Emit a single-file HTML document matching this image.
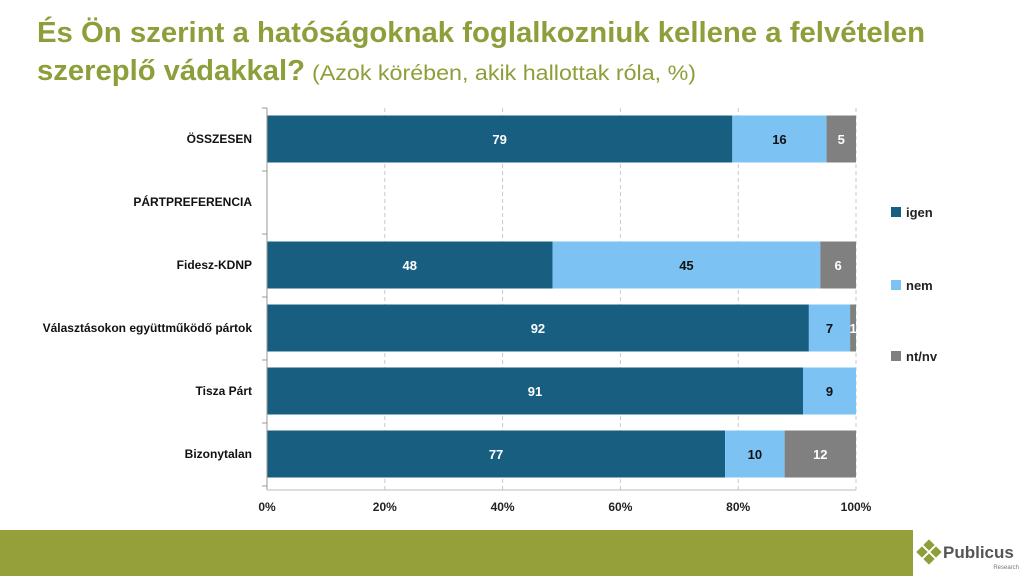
<!DOCTYPE html>
<html><head><meta charset="utf-8"><style>
html,body{margin:0;padding:0;background:#fff;}
svg{display:block;font-family:"Liberation Sans",sans-serif;}
</style></head><body>
<svg id="c" width="1024" height="576" viewBox="0 0 1024 576">
<text x="37" y="42" font-size="29" font-weight="bold" fill="#8c9f3a" textLength="888" lengthAdjust="spacingAndGlyphs">És Ön szerint a hatóságoknak foglalkozniuk kellene a felvételen</text>
<text x="37" y="80" font-size="29" font-weight="bold" fill="#8c9f3a" textLength="268" lengthAdjust="spacingAndGlyphs">szereplő vádakkal?</text>
<text x="312" y="80" font-size="21" fill="#8c9f3a" textLength="384" lengthAdjust="spacingAndGlyphs">(Azok körében, akik hallottak róla, %)</text>
<g id="grid"></g><g id="bars"></g><g id="axes"></g>
<g>
<rect x="891" y="207" width="10" height="10" fill="#175e80"/>
<text x="906" y="217" font-size="13" font-weight="bold" fill="#222">igen</text>
<rect x="891" y="280" width="10" height="10" fill="#7cc3f4"/>
<text x="906" y="290" font-size="13" font-weight="bold" fill="#222">nem</text>
<rect x="891" y="351" width="10" height="10" fill="#808080"/>
<text x="906" y="361" font-size="13" font-weight="bold" fill="#222">nt/nv</text>
</g>
<rect x="0" y="530" width="913" height="46" fill="#95a03a"/>
<g>
<rect x="925" y="541" width="8" height="8" fill="#8c9f3a" transform="rotate(45 929 545)"/>
<rect x="918" y="548" width="8" height="8" fill="#8c9f3a" transform="rotate(45 922 552)"/>
<rect x="932" y="548" width="8" height="8" fill="#8c9f3a" transform="rotate(45 936 552)"/>
<rect x="925" y="555" width="8" height="8" fill="#8c9f3a" transform="rotate(45 929 559)"/>
<text x="943" y="558" font-size="17" font-weight="bold" fill="#555">Publicus</text>
<text x="1019" y="569" font-size="6" fill="#777" text-anchor="end">Research</text>
</g>
</svg>
<script>
const categories=["ÖSSZESEN","PÁRTPREFERENCIA","Fidesz-KDNP","Választásokon együttműködő pártok","Tisza Párt","Bizonytalan"];
const igen=[79,null,48,92,91,77];
const nem=[16,null,45,7,9,10];
const ntnv=[5,null,6,1,0,12];
const ticks=["0%","20%","40%","60%","80%","100%"];
const NS="http://www.w3.org/2000/svg";
const X0=267,X1=856,Y0=108,ROW=63,BH=47;
const xs=v=>X0+(X1-X0)*v/100;
const yc=i=>139+i*ROW;
function mk(t,a,p){const e=document.createElementNS(NS,t);for(const k in a)e.setAttribute(k,a[k]);p.appendChild(e);return e;}
const grid=document.getElementById('grid'),bars=document.getElementById('bars'),axes=document.getElementById('axes');
const YB=490;
ticks.forEach((t,i)=>{const x=xs(i*20);
 if(i>0){const l=mk('line',{x1:x,x2:x,y1:Y0,y2:YB,stroke:'#c8c8c8','stroke-dasharray':'4,3'},grid);
 
 }
 const tx=mk('text',{x:x,y:511,'font-size':12,'font-weight':'bold','text-anchor':'middle',fill:'#222'},axes);tx.textContent=t;
 
 
});
const ax=mk('line',{x1:X0,x2:X0,y1:Y0,y2:YB,stroke:'#999'},axes);


const bx=mk('line',{x1:X0,x2:X1,y1:YB,y2:YB,stroke:'#bbb'},axes);


for(let i=0;i<=categories.length;i++){const y=Y0+i*ROW;const tk=mk('line',{x1:X0-5,x2:X0,y1:y,y2:y,stroke:'#999'},axes);
 
 }
const series=[[igen,'#175e80','#fff','igen'],[nem,'#7cc3f4','#111','nem'],[ntnv,'#808080','#fff','ntnv']];
categories.forEach((c,i)=>{
 const lb=mk('text',{x:252,y:yc(i)+4,'font-size':12,'font-weight':'bold','text-anchor':'end',fill:'#111'},axes);lb.textContent=c;
 
 
 if(igen[i]==null)return;
 const tot=igen[i]+nem[i]+ntnv[i];
 let acc=0;
 series.forEach(([arr,col,tc,nm])=>{const v=arr[i];if(!v)return;
  const a=acc*100/tot,b=(acc+v)*100/tot;
  const r=mk('rect',{x:xs(a),y:yc(i)-BH/2,width:xs(b)-xs(a),height:BH,fill:col},bars);
  
  
  const t=mk('text',{x:(xs(a)+xs(b))/2,y:yc(i)+5,'font-size':13,'font-weight':'bold','text-anchor':'middle',fill:tc},bars);t.textContent=v;
  
  
  acc+=v;});
});
</script>
</body></html>
